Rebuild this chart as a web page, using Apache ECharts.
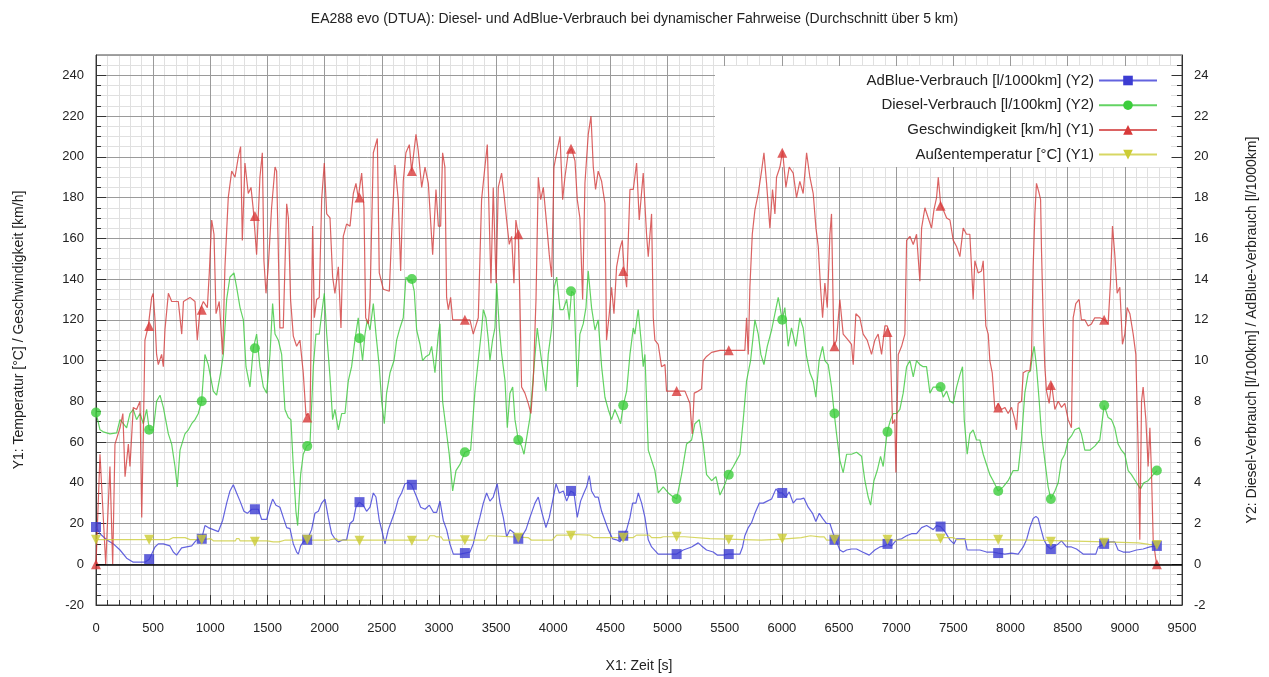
<!DOCTYPE html>
<html>
<head>
<meta charset="utf-8">
<title>EA288 evo (DTUA)</title>
<script src="https://cdn.jsdelivr.net/npm/echarts@6/dist/echarts.min.js"></script>
<style>
  html, body { margin: 0; padding: 0; background: #fff; }
  #chart { width: 1269px; height: 677px; }
</style>
</head>
<body>
<div id="chart"></div>
<script>
// Geschwindigkeit [km/h] (Y1)
var speedTime = [0,35,85,122,146,166,210,235,254,283,297,326,355,385,400,414,428,458,487,500,515,530,545,574,589,603,633,662,720,750,765,822,866,886,910,939,974,991,1012,1032,1050,1078,1108,1128,1157,1187,1216,1245,1265,1280,1303,1332,1356,1376,1405,1434,1455,1469,1487,1507,1536,1566,1580,1609,1638,1668,1683,1702,1726,1755,1784,1813,1837,1858,1872,1895,1910,1930,1953,1974,1997,2018,2047,2070,2090,2120,2143,2163,2192,2222,2251,2274,2294,2324,2344,2359,2382,2397,2426,2461,2478,2513,2566,2586,2615,2644,2665,2688,2711,2741,2761,2799,2819,2849,2878,2907,2945,2974,2995,3015,3032,3052,3067,3082,3102,3120,3227,3271,3300,3344,3373,3402,3423,3440,3455,3475,3490,3500,3519,3548,3572,3592,3615,3636,3656,3673,3694,3708,3723,3752,3781,3805,3825,3849,3869,3890,3913,3942,3965,3986,4006,4030,4059,4082,4102,4131,4160,4190,4210,4233,4257,4277,4306,4330,4350,4370,4393,4423,4452,4466,4490,4510,4531,4554,4583,4604,4618,4642,4671,4700,4729,4752,4787,4816,4831,4860,4875,4889,4918,4947,4977,4991,5079,5152,5195,5216,5233,5268,5297,5312,5341,5385,5458,5545,5633,5676,5691,5706,5720,5741,5764,5793,5822,5843,5866,5895,5918,5939,5953,5983,6006,6035,6064,6099,6128,6157,6186,6216,6245,6274,6298,6318,6338,6356,6376,6397,6420,6434,6455,6478,6507,6536,6580,6609,6624,6647,6682,6711,6746,6784,6813,6842,6872,6901,6921,6945,6968,6988,6997,7018,7047,7076,7091,7120,7149,7178,7207,7222,7251,7280,7309,7330,7353,7368,7388,7411,7441,7470,7499,7528,7557,7586,7615,7644,7673,7688,7717,7746,7761,7784,7805,7819,7840,7863,7892,7921,7950,7979,8009,8038,8052,8067,8096,8111,8140,8169,8184,8198,8213,8227,8251,8263,8271,8286,8300,8315,8338,8358,8388,8417,8446,8475,8504,8533,8548,8571,8600,8620,8650,8679,8708,8737,8781,8825,8854,8874,8892,8912,8933,8956,8979,9000,9020,9044,9073,9096,9117,9131,9146,9160,9184,9204,9219,9233,9248,9277];
var speedKmh = [0,54,0,48,0,59,67,74,43,59,48,77,76,80,23,64,110,117,131,133,121,103,98,103,97,115,133,129,129,113,129,131,129,110,125,129,126,143,169,162,123,129,103,146,180,193,190,200,205,159,197,182,185,174,152,190,202,149,133,146,175,195,193,116,116,177,170,130,112,107,110,94,73,74,71,166,121,130,131,179,197,172,170,141,133,146,116,161,167,166,182,187,180,192,175,121,118,130,202,209,143,135,134,162,196,179,144,188,202,206,193,211,203,185,195,187,152,184,166,166,202,195,131,125,131,120,120,120,113,121,179,195,206,169,138,185,185,138,185,192,180,169,157,161,138,169,162,130,87,84,79,74,90,130,190,179,185,167,152,141,195,202,210,179,190,202,204,198,179,170,130,187,211,220,195,184,193,188,177,110,123,136,123,146,155,159,146,136,184,184,197,169,192,162,151,172,121,110,108,97,98,85,85,85,79,64,84,85,86,100,102,104,105,105,105,105,121,103,136,162,174,182,193,202,187,165,184,172,190,195,203,185,195,192,180,188,182,202,190,182,165,156,136,121,138,126,162,172,107,110,130,113,110,108,98,123,121,113,110,103,110,113,103,117,117,113,69,71,45,103,107,113,159,161,157,162,139,165,175,170,165,174,180,190,177,174,170,169,159,156,151,165,162,162,130,149,143,144,149,117,113,100,94,76,79,76,77,74,77,71,66,79,80,94,95,95,103,146,172,187,182,179,154,120,97,85,79,89,76,80,77,79,71,67,121,128,130,120,120,117,118,121,121,120,118,138,166,152,133,136,108,113,126,123,113,103,56,12,80,87,71,48,67,45,12,0];

// Diesel-Verbrauch [l/100km] (Y2)
var dieselTime = [0,35,64,122,181,210,239,268,297,326,355,385,414,443,466,501,530,560,589,633,662,691,711,735,778,808,837,866,895,924,953,982,1026,1055,1090,1114,1143,1172,1207,1230,1260,1289,1312,1347,1376,1405,1434,1464,1493,1522,1545,1566,1595,1624,1653,1682,1705,1726,1749,1764,1790,1813,1843,1872,1901,1924,1953,1974,1997,2018,2047,2070,2090,2120,2149,2178,2207,2236,2265,2294,2309,2332,2353,2373,2397,2426,2449,2478,2499,2522,2542,2572,2607,2630,2659,2688,2711,2741,2761,2784,2805,2834,2857,2887,2916,2936,2965,2995,3009,3032,3061,3090,3120,3149,3184,3227,3277,3315,3344,3373,3388,3411,3432,3446,3469,3490,3505,3528,3549,3578,3598,3621,3645,3665,3694,3723,3744,3773,3796,3825,3860,3890,3913,3936,3956,3986,4009,4030,4059,4088,4117,4140,4160,4181,4210,4233,4262,4286,4306,4335,4365,4393,4423,4452,4481,4510,4539,4569,4589,4612,4642,4671,4700,4714,4743,4773,4787,4802,4831,4860,4889,4918,4962,5006,5050,5079,5122,5166,5210,5239,5277,5312,5341,5385,5423,5458,5493,5531,5575,5604,5633,5662,5691,5726,5764,5793,5816,5843,5872,5910,5939,5968,6003,6026,6055,6084,6122,6157,6186,6216,6245,6274,6297,6326,6356,6376,6405,6434,6458,6478,6507,6536,6566,6609,6653,6697,6726,6755,6776,6805,6834,6863,6886,6921,6951,6974,7003,7032,7061,7091,7120,7149,7178,7207,7236,7265,7295,7324,7353,7388,7411,7441,7470,7499,7528,7557,7580,7595,7621,7644,7673,7702,7732,7761,7790,7819,7848,7892,7936,7979,8023,8067,8096,8125,8155,8175,8192,8207,8227,8251,8271,8300,8329,8353,8388,8417,8446,8475,8504,8533,8562,8600,8620,8650,8694,8737,8781,8819,8854,8883,8912,8941,8970,9000,9029,9058,9102,9137,9166,9204,9248,9283];
var dieselL100 = [7.45,6.6,6.5,6.4,6.45,7.1,6.9,6.7,7.4,7.6,7.1,7.4,6.9,7.6,6.6,6.6,8.0,8.3,7.7,6.4,5.9,4.8,3.8,5.6,6.4,6.6,6.9,7.1,7.4,8.0,10.3,9.8,8.5,8.3,9.4,10.3,13.0,14.1,14.3,13.6,12.6,12.0,9.7,8.7,10.6,11.3,9.7,8.7,8.4,10.3,12.8,11.3,11.0,10.3,7.6,7.2,7.1,4.8,2.6,1.9,4.4,5.4,5.8,5.9,9.7,11.3,11.3,12.3,13.3,11.3,9.2,7.1,7.6,6.6,7.4,7.4,9.0,9.7,11.0,12.1,11.1,10.0,11.3,12.0,11.5,12.8,11.3,9.7,8.0,6.9,8.4,9.4,10.0,11.0,11.6,12.1,14.1,13.9,14.0,13.4,11.5,10.8,10.0,10.2,10.3,10.7,9.4,11.3,11.8,8.0,6.7,5.4,3.6,4.6,4.9,5.5,5.6,8.5,10.0,11.5,12.5,12.1,11.0,10.0,11.0,11.6,13.8,11.6,10.3,9.0,6.7,8.4,8.7,7.1,6.1,5.8,5.4,6.4,7.2,9.2,11.6,10.3,9.4,8.5,10.3,11.6,13.6,14.1,12.5,12.5,13.0,12.0,13.4,13.3,8.7,11.3,11.8,12.6,14.4,12.6,11.5,12.0,9.7,8.2,7.6,7.1,7.6,7.2,6.9,7.8,8.5,10.3,11.6,11.3,12.5,10.7,9.7,10.3,5.6,5.1,4.6,3.5,3.8,3.5,3.3,3.2,4.4,5.9,6.1,6.9,7.1,5.9,4.4,4.1,4.3,3.4,3.8,4.4,4.8,5.1,5.4,7.1,9.0,10.0,12.0,11.3,10.3,9.8,10.7,11.5,12.3,13.1,12.0,12.6,10.7,11.6,10.7,12.1,11.6,10.2,9.4,9.0,8.2,10.0,10.7,10.0,9.8,8.7,7.4,6.4,5.1,4.5,5.4,5.4,5.5,5.3,4.1,3.3,2.9,4.1,4.6,5.3,4.8,6.5,7.1,7.4,7.4,7.6,8.4,9.7,10.0,9.2,10.0,9.8,9.7,9.7,8.4,8.7,8.7,8.7,8.2,8.5,8.0,7.9,8.7,9.3,9.7,7.1,5.4,6.4,6.6,6.1,6.1,5.4,4.9,4.4,4.1,3.6,3.8,4.1,4.6,4.6,6.1,8.4,9.4,9.5,10.3,10.7,9.7,8.0,6.4,5.1,3.8,3.2,3.6,4.0,5.1,5.4,6.1,6.3,6.6,6.7,6.4,5.6,5.6,5.8,6.1,7.8,7.2,7.1,6.7,5.9,5.6,5.4,4.6,4.4,4.0,3.7,4.0,4.1,4.4,4.6];

// AdBlue-Verbrauch [l/1000km] (Y2)
var adblueTime = [0,35,93,152,210,268,326,385,428,466,516,545,589,647,676,705,749,793,837,880,924,953,982,1026,1070,1108,1143,1172,1201,1230,1260,1294,1324,1362,1391,1420,1449,1493,1522,1545,1574,1609,1638,1668,1697,1726,1755,1770,1790,1813,1848,1886,1915,1945,1974,2003,2032,2061,2090,2120,2163,2192,2222,2251,2274,2303,2338,2367,2397,2426,2449,2478,2507,2528,2557,2586,2615,2644,2673,2703,2732,2761,2805,2840,2878,2916,2951,2980,3009,3038,3067,3096,3126,3184,3227,3271,3300,3329,3358,3388,3417,3446,3475,3510,3534,3563,3592,3621,3665,3694,3723,3761,3796,3840,3869,3898,3936,3965,3994,4024,4053,4088,4117,4152,4181,4210,4239,4268,4292,4315,4335,4365,4393,4423,4452,4481,4519,4554,4583,4612,4642,4671,4694,4723,4744,4773,4802,4831,4860,4918,4991,5079,5137,5210,5268,5297,5341,5399,5434,5487,5531,5589,5633,5656,5676,5706,5735,5764,5802,5837,5872,5910,5948,5977,6003,6035,6064,6099,6128,6163,6192,6230,6268,6297,6327,6356,6391,6420,6449,6472,6507,6536,6566,6609,6653,6705,6764,6813,6857,6901,6924,6959,7003,7047,7091,7134,7178,7222,7266,7295,7324,7353,7388,7426,7470,7505,7528,7572,7601,7621,7673,7732,7790,7848,7892,7950,8009,8067,8111,8140,8169,8198,8222,8242,8263,8292,8321,8353,8388,8417,8446,8490,8533,8577,8635,8694,8746,8767,8819,8869,8912,8941,8985,9044,9102,9160,9219,9283];
var adblueL1000 = [1.83,1.5,1.2,1.0,0.7,0.3,0.1,0.1,0.1,0.25,0.85,1.0,1.0,0.9,0.6,0.45,0.8,0.85,0.9,1.2,1.25,1.9,1.8,1.7,1.6,2.15,3.0,3.6,3.9,3.5,3.1,2.6,2.5,2.7,2.7,2.7,2.2,2.2,2.8,3.2,2.9,2.8,2.3,1.8,1.75,1.0,0.6,0.5,0.9,1.1,1.2,1.7,2.5,2.6,3.0,3.2,2.3,1.5,1.25,1.1,1.2,1.2,2.0,2.15,2.8,3.05,2.9,2.6,2.8,3.5,3.3,2.15,1.5,1.0,1.7,2.15,2.6,3.2,3.5,3.95,4.0,3.9,3.3,2.8,2.7,2.9,2.55,2.55,3.1,2.15,1.7,1.0,0.5,0.5,0.55,0.6,1.0,1.7,2.3,3.0,3.5,3.1,3.3,3.95,3.0,2.3,1.35,1.7,1.5,1.25,1.35,1.7,2.3,3.0,3.3,2.6,1.8,2.3,3.1,3.95,3.5,3.6,3.1,3.6,3.5,2.3,3.1,3.5,3.8,4.35,3.6,3.3,3.3,2.6,2.15,1.7,1.25,1.2,1.1,1.4,1.7,2.3,3.0,3.0,3.5,3.0,2.3,1.2,0.85,0.5,0.5,0.5,0.7,0.85,1.05,0.9,0.7,0.6,0.45,0.45,0.5,0.5,0.5,0.85,1.4,1.8,2.05,2.5,3.0,3.0,3.1,3.2,3.7,3.5,3.5,3.3,3.55,3.0,3.2,3.2,3.25,2.8,2.5,2.1,2.5,2.25,2.0,2.0,1.5,1.2,0.7,0.6,0.7,0.75,0.75,0.6,0.45,0.7,0.85,0.9,1.0,0.9,1.2,1.25,1.4,1.5,1.5,1.8,1.9,1.8,1.7,1.9,1.85,1.6,1.2,1.0,1.25,1.25,1.25,0.7,0.7,0.7,0.6,0.6,0.55,0.5,0.55,0.5,0.85,1.2,1.8,2.25,2.35,2.25,1.8,1.2,0.9,0.75,0.9,1.0,1.15,0.85,0.85,0.75,0.5,0.5,0.5,0.85,1.0,1.1,1.1,0.7,0.6,0.6,0.7,0.75,0.85,0.9];

// Außentemperatur [°C] (Y1)
var tempTime = [0,640,676,780,822,940,953,1000,1026,1220,1230,1250,1260,1500,1550,1600,1650,2030,2047,2100,2120,2900,2920,2960,2980,3020,3038,3410,3432,3450,3461,3780,3810,3990,4030,4150,4175,4320,4350,4700,4729,4840,4860,4940,4962,5150,5166,5370,5385,5820,5837,6000,6012,6170,6186,6250,6330,6370,6391,7390,7411,7500,7528,7690,7702,8210,8227,8830,8840,9120,9131,9210,9219,9280];
var tempC = [12.1,12.1,13.1,13.1,12.1,12.1,12.6,12.6,11.5,11.5,12.6,12.6,11.5,11.5,11.0,11.0,11.8,11.8,12.6,12.6,11.8,11.8,14.0,14.0,13.4,13.4,11.8,11.8,14.0,14.0,13.1,13.1,11.8,11.8,14.3,14.3,14.6,14.3,13.1,13.1,14.3,14.3,13.1,13.1,13.5,13.5,12.6,12.6,11.8,11.8,12.3,12.3,13.1,13.1,14.0,14.0,13.4,13.4,11.8,11.8,13.1,13.1,12.1,12.1,11.8,11.8,11.0,11.0,10.5,10.5,9.8,9.8,9.3,9.3];

// Markierungen (Symbole auf den Kurven)
var markerTime = [0,465,925,1390,1848,2305,2763,3227,3694,4155,4612,5079,5535,6003,6460,6924,7388,7892,8353,8819,9280];
var markerAdblue = [1.83,0.25,1.25,2.7,1.2,3.05,3.9,0.55,1.25,3.6,1.4,0.5,0.5,3.5,1.2,1.0,1.85,0.55,0.75,1.0,0.9];
var markerDiesel = [7.45,6.6,8.0,10.6,5.8,11.1,14.0,5.5,6.1,13.4,7.8,3.2,4.4,12.0,7.4,6.5,8.7,3.6,3.2,7.8,4.6];
var markerSpeed = [0,117,125,171,72,180,193,120,162,204,144,85,105,202,107,114,176,77,88,120,0];
var markerTemp = [12,12,12,11,12,11.5,11.5,11.8,13,14,13,13.5,12,12.5,12,12,12.5,12,11,10.5,9.5];

var FONT = '"Liberation Sans", Arial, sans-serif';
var TRI_DOWN = 'path://M0,0 L10,0 L5,8.66 Z';

function pairs(t, v) {
  return t.map(function (x, i) { return [x, v[i]]; });
}

function curve(name, t, v, yIdx, lineColor, markColor, symbol) {
  return {
    name: name,
    type: 'line',
    xAxisIndex: 1,
    yAxisIndex: yIdx,
    data: pairs(t, v),
    showSymbol: false,
    symbol: symbol,
    symbolSize: 10,
    lineStyle: { color: lineColor, width: 1.2 },
    itemStyle: { color: markColor },
    z: 2,
    animation: false
  };
}

function marks(name, v, yIdx, markColor, symbol) {
  return {
    name: name,
    type: 'scatter',
    xAxisIndex: 1,
    yAxisIndex: yIdx,
    data: pairs(markerTime, v),
    symbol: symbol,
    symbolSize: 10,
    itemStyle: { color: markColor, opacity: 0.8 },
    z: 3,
    silent: true,
    animation: false
  };
}

var names = [
  'AdBlue-Verbrauch [l/1000km] (Y2)',
  'Diesel-Verbrauch [l/100km] (Y2)',
  'Geschwindigkeit [km/h] (Y1)',
  'Außentemperatur [°C] (Y1)'
];

var speedLine = curve(names[2], speedTime, speedKmh, 1, 'rgba(210,60,60,0.8)', '#d83a3a', 'triangle');
speedLine.markLine = {
  silent: true,
  symbol: 'none',
  label: { show: false },
  lineStyle: { color: '#000', width: 1.5, type: 'solid' },
  data: [{ yAxis: 0 }],
  animation: false
};

var plain = function (v) { return String(v); };

var chart = echarts.init(document.getElementById('chart'));
chart.setOption({
  backgroundColor: '#fff',
  textStyle: { fontFamily: FONT },
  animation: false,
  title: {
    text: 'EA288 evo (DTUA): Diesel- und AdBlue-Verbrauch bei dynamischer Fahrweise (Durchschnitt über 5 km)',
    left: 'center',
    top: 7,
    textStyle: { fontSize: 14, fontWeight: 'normal', color: '#222', fontFamily: FONT }
  },
  grid: {
    left: 96, right: 87, top: 55, bottom: 72,
    outerBoundsMode: 'none', containLabel: false,
    show: true, borderColor: '#444', borderWidth: 1
  },
  graphic: [{
    type: 'rect', left: 715, top: 66, z: 1.5, silent: true,
    shape: { width: 456, height: 101 },
    style: { fill: '#fff' }
  }],
  legend: {
    data: names,
    orient: 'vertical',
    align: 'right',
    right: 111,
    top: 73,
    itemWidth: 58,
    itemHeight: 12,
    itemGap: 9.7,
    padding: 0,
    selectedMode: false,
    textStyle: { fontSize: 15, color: '#222', fontFamily: FONT }
  },
  xAxis: [
    {
      type: 'value', position: 'bottom', min: 0, max: 9500, interval: 100, z: 0,
      axisLine: { show: false, onZero: false },
      axisLabel: { show: false },
      axisTick: { show: true, inside: true, length: 5, lineStyle: { color: '#333' } },
      splitLine: { show: true, lineStyle: { color: '#e0e0e0', width: 1 } }
    },
    {
      type: 'value', position: 'bottom', min: 0, max: 9500, interval: 500, z: 1,
      name: 'X1: Zeit [s]', nameLocation: 'middle', nameGap: 54,
      nameTextStyle: { fontSize: 14, color: '#222' },
      axisLine: { show: true, onZero: false, lineStyle: { color: '#333' } },
      axisTick: { show: true, inside: true, length: 10, lineStyle: { color: '#333' } },
      axisLabel: { margin: 17, fontSize: 13, color: '#222', formatter: plain },
      splitLine: { show: true, lineStyle: { color: '#9a9a9a', width: 1 } }
    }
  ],
  yAxis: [
    {
      type: 'value', position: 'left', min: -20, max: 250, interval: 5, z: 0,
      axisLine: { show: false, onZero: false },
      axisLabel: { show: false },
      axisTick: { show: true, inside: true, length: 5, lineStyle: { color: '#333' } },
      splitLine: { show: true, lineStyle: { color: '#e0e0e0', width: 1 } }
    },
    {
      type: 'value', position: 'left', min: -20, max: 250, interval: 20, z: 1,
      name: 'Y1: Temperatur [°C] / Geschwindigkeit [km/h]',
      nameLocation: 'middle', nameGap: 70, nameRotate: 90,
      nameTextStyle: { fontSize: 14, color: '#222' },
      axisLine: { show: true, onZero: false, lineStyle: { color: '#333' } },
      axisTick: { show: true, inside: true, length: 10, lineStyle: { color: '#333' } },
      axisLabel: { margin: 12, fontSize: 13, color: '#222', showMaxLabel: false, formatter: plain },
      splitLine: { show: true, lineStyle: { color: '#9a9a9a', width: 1 } }
    },
    {
      type: 'value', position: 'right', min: -2, max: 25, interval: 0.5, z: 0,
      axisLine: { show: false, onZero: false },
      axisLabel: { show: false },
      axisTick: { show: true, inside: true, length: 5, lineStyle: { color: '#333' } },
      splitLine: { show: false }
    },
    {
      type: 'value', position: 'right', min: -2, max: 25, interval: 2, z: 1,
      name: 'Y2: Diesel-Verbrauch [l/100km] / AdBlue-Verbrauch [l/1000km]',
      nameLocation: 'middle', nameGap: 63, nameRotate: 90,
      nameTextStyle: { fontSize: 14, color: '#222' },
      axisLine: { show: true, onZero: false, lineStyle: { color: '#333' } },
      axisTick: { show: true, inside: true, length: 10, lineStyle: { color: '#333' } },
      axisLabel: { margin: 12, fontSize: 13, color: '#222', showMaxLabel: false, formatter: plain },
      splitLine: { show: false }
    }
  ],
  series: [
    curve(names[0], adblueTime, adblueL1000, 3, 'rgba(60,60,215,0.8)', '#3c3cd2', 'rect'),
    curve(names[1], dieselTime, dieselL100, 3, 'rgba(60,200,60,0.8)', '#3ccd3c', 'circle'),
    speedLine,
    curve(names[3], tempTime, tempC, 1, 'rgba(205,205,60,0.8)', '#cccc33', TRI_DOWN),
    marks(names[0], markerAdblue, 3, '#3c3cd2', 'rect'),
    marks(names[1], markerDiesel, 3, '#3ccd3c', 'circle'),
    marks(names[2], markerSpeed, 1, '#d83a3a', 'triangle'),
    marks(names[3], markerTemp, 1, '#cccc33', TRI_DOWN)
  ]
});
</script>
</body>
</html>
